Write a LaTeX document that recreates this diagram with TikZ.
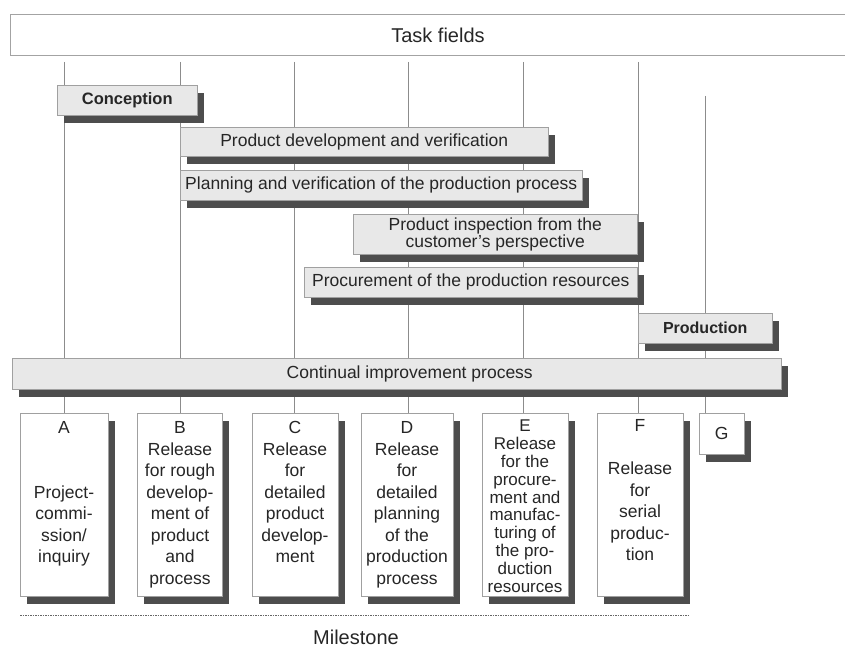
\documentclass[tikz,border=0pt]{standalone}
\usepackage{fontspec}
\setmainfont{Liberation Sans}
\usetikzlibrary{shadows,backgrounds}
\definecolor{barfill}{HTML}{E8E8E8}
\definecolor{edgec}{HTML}{A0A0A0}
\definecolor{shadowc}{HTML}{4D4D4D}
\definecolor{linec}{HTML}{8C8C8C}
\definecolor{inkc}{HTML}{262626}
\begin{document}
\begin{tikzpicture}[x=1pt,y=-1pt,
  shadowed/.style={drop shadow={shadow xshift=7pt,shadow yshift=-8pt,fill=shadowc,opacity=1}},
  bar/.style={shadowed,draw=edgec,line width=0.5pt,fill=barfill,text=inkc,inner sep=0pt,
    anchor=north west,align=center,font=\fontsize{17.5}{17}\selectfont},
  mbox/.style={shadowed,draw=edgec,line width=0.5pt,fill=white,inner sep=0pt,anchor=north west},
  mtext/.style={text=inkc,inner sep=0pt,anchor=north,align=center,font=\fontsize{17.5}{21.5}\selectfont},
  guide/.style={draw=linec,line width=0.6pt},
  frame/.style={draw=linec!80,line width=0.6pt},
  rule/.style={draw=black!60,line width=1pt,dash pattern=on 1.5pt off 1pt},
  head/.style={text=inkc,inner sep=0pt,font=\fontsize{20}{24}\selectfont}]
\useasboundingbox (0,0) rectangle (845,652);

% header strip, open to the right
\draw[frame] (845,14) -- (10,14) -- (10,55) -- (845,55);
\node[head] (task) at (438,35) {Task fields};

% task field bars
\node[bar,minimum width=140pt,minimum height=30pt,font=\fontsize{16.5}{17}\selectfont\bfseries]
  (conc) at (57,85) {Conception};
\node[bar,minimum width=368pt,minimum height=29pt] (pdev) at (180,127)
  {Product development and verification};
\node[bar,minimum width=402pt,minimum height=30pt] (plan) at (180,170)
  {Planning and verification of the production process};
\node[bar,minimum width=284pt,minimum height=40pt] (insp) at (353,214)
  {Product inspection from the\\customer's perspective};
\node[bar,minimum width=333pt,minimum height=30pt] (proc) at (304,267)
  {Procurement of the production resources};
\node[bar,minimum width=134pt,minimum height=30pt,font=\fontsize{16}{17}\selectfont\bfseries]
  (prod) at (638,313) {Production};
\node[bar,minimum width=769pt,minimum height=31pt] (cip) at (12,358)
  {\hspace*{26pt}Continual improvement process};

% milestone boxes
\node[mbox,minimum width=88pt,minimum height=183pt] (mA) at (20,413) {};
\node[mbox,minimum width=85pt,minimum height=183pt] (mB) at (137,413) {};
\node[mbox,minimum width=86pt,minimum height=183pt] (mC) at (252,413) {};
\node[mbox,minimum width=92pt,minimum height=183pt] (mD) at (361,413) {};
\node[mbox,minimum width=86pt,minimum height=183pt] (mE) at (482,413) {};
\node[mbox,minimum width=86pt,minimum height=183pt] (mF) at (597,413) {};
\node[mbox,minimum width=45pt,minimum height=41pt,text=inkc,font=\fontsize{17.5}{21}\selectfont]
  (mG) at (699,413) {G};

% milestone texts
\node[mtext] (tA) at (64,421.5) {A\\[43pt]Project-\\commi-\\ssion/\\inquiry};
\node[mtext] (tB) at (180,421.5) {B\\Release\\for rough\\develop-\\ment of\\product\\and\\process};
\node[mtext] (tC) at (295,421.5) {C\\Release\\for\\detailed\\product\\develop-\\ment};
\node[mtext] (tD) at (407,421.5) {D\\Release\\for\\detailed\\planning\\of the\\production\\process};
\node[mtext,font=\fontsize{17}{17.8}\selectfont] (tE) at (525,420)
  {E\\Release\\for the\\procure-\\ment and\\manufac-\\turing of\\the pro-\\duction\\resources};
\node[mtext] (tF) at (640,419.5) {F\\[21.5pt]Release\\for\\serial\\produc-\\tion};

% milestone axis
\coordinate (axL) at (20,615);
\coordinate (axR) at (690,615);
\draw[rule] (axL) -- (axR);
\node[head] (mile) at (356,637) {Milestone};

% milestone guide lines, behind the bars
\coordinate (gA) at (64,62);
\coordinate (gB) at (180,62);
\coordinate (gC) at (294,62);
\coordinate (gD) at (408,62);
\coordinate (gE) at (523,62);
\coordinate (gF) at (638,62);
\coordinate (gG) at (705,96);
\begin{scope}[on background layer]
  \draw[guide] (gA) -- (gA |- mA.north);
  \draw[guide] (gB) -- (gB |- mB.north);
  \draw[guide] (gC) -- (gC |- mC.north);
  \draw[guide] (gD) -- (gD |- mD.north);
  \draw[guide] (gE) -- (gE |- mE.north);
  \draw[guide] (gF) -- (gF |- mF.north);
  \draw[guide] (gG) -- (gG |- mG.north);
\end{scope}
\end{tikzpicture}
\end{document}
